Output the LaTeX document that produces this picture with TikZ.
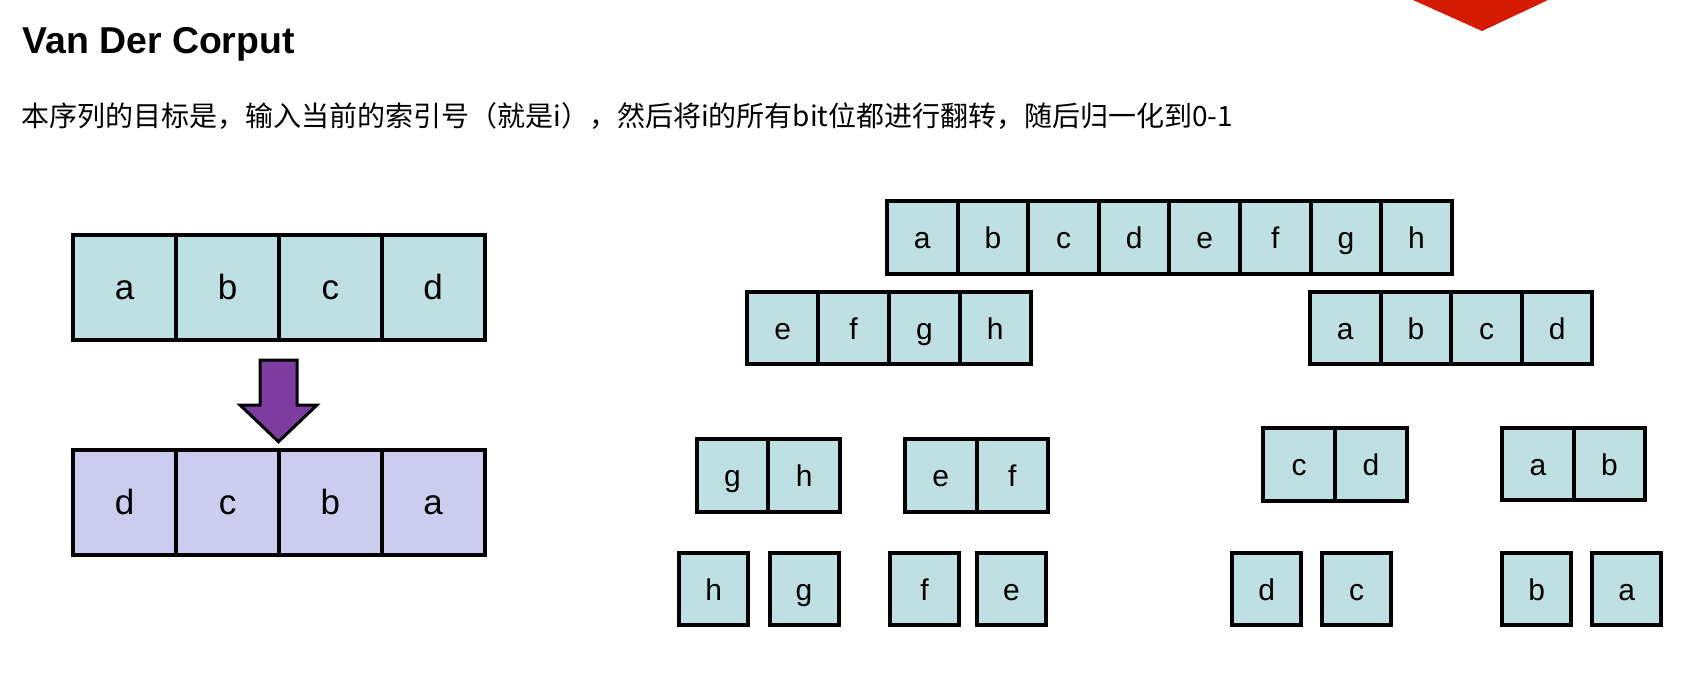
\documentclass[tikz,border=0pt]{standalone}
\usepackage{fontspec}
\setmainfont{Liberation Sans}
\newfontfamily\cjk{Noto Sans CJK SC}
\definecolor{cellcyan}{HTML}{BEE0E2}
\definecolor{celllav}{HTML}{CCCDEE}
\definecolor{arrowpurple}{HTML}{7D3CA0}
\definecolor{cornerred}{HTML}{D41A00}
\tikzset{
  cellbase/.style={draw=black, line width=2pt, inner sep=0pt, text depth=0pt},
  bigcell/.style={cellbase, fill=cellcyan, minimum width=51.4pt, minimum height=52.5pt, text height=12pt, font=\fontsize{17.5}{20}\selectfont},
  bigcellL/.style={bigcell, fill=celllav},
  tcell/.style={cellbase, fill=cellcyan, minimum width=#1, minimum height=36.3pt, text height=11.5pt, font=\fontsize{15}{18}\selectfont},
  tcell/.default=35.3pt
}
\begin{document}
\begin{tikzpicture}[x=0.5pt,y=-0.5pt]
\useasboundingbox (0,0) rectangle (1695,700);
\fill[white] (0,0) rectangle (1695,700);
% red corner shape
\fill[cornerred] (1413,0) -- (1482,31) -- (1548,0) -- cycle;
% title and subtitle
\node[anchor=base west, inner sep=0pt, font=\bfseries\fontsize{18.7}{22}\selectfont] (title) at (22,54) {Van Der Corput};
\node[anchor=base west, inner sep=0pt, font=\cjk\fontsize{14}{17}\selectfont] (sub) at (21,127) {本序列的目标是，输入当前的索引号（就是i），然后将i的所有bit位都进行翻转，随后归一化到0-1};
% left: original row
\foreach \t [count=\i] in {a,b,c,d}{
  \node[bigcell] (L\i) at ({73.3+51.4+102.8*(\i-1)},287.5) {\t};
}
% left: reversed row
\foreach \t [count=\i] in {d,c,b,a}{
  \node[bigcellL] (R\i) at ({73.3+51.4+102.8*(\i-1)},502.5) {\t};
}
% block arrow
\draw[fill=arrowpurple, draw=black, line width=1.5pt, line join=miter]
  (260,360) -- (297,360) -- (297,405) -- (317,405) -- (278.5,441.7) -- (240,405) -- (260,405) -- cycle;
% right: row 1
\foreach \t [count=\i] in {a,b,c,d,e,f,g,h}{
  \node[tcell] (T\i) at ({922.3+70.6*(\i-1)},237.3) {\t};
}
% row 2
\foreach \t [count=\i] in {e,f,g,h}{
  \node[tcell] (U\i) at ({782.7+70.85*(\i-1)},328) {\t};
}
\foreach \t [count=\i] in {a,b,c,d}{
  \node[tcell] (V\i) at ({1345.3+70.6*(\i-1)},328) {\t};
}
% row 3
\node[tcell=35.8pt] (W1) at (732.5,475.3) {g};
\node[tcell=35.8pt] (W2) at (804.2,475.3) {h};
\node[tcell=35.8pt] (W3) at (940.8,475.3) {e};
\node[tcell=35.8pt] (W4) at (1012.4,475.3) {f};
\node[tcell=36pt] (W5) at (1299,464.2) {c};
\node[tcell=36pt] (W6) at (1371,464.2) {d};
\node[tcell=35.7pt] (W7) at (1538,463.9) {a};
\node[tcell=35.7pt] (W8) at (1609.5,463.9) {b};
% row 4
\node[tcell=34.5pt] (X1) at (713.7,589) {h};
\node[tcell=34.5pt] (X2) at (804,589) {g};
\node[tcell=34.5pt] (X3) at (924.5,589) {f};
\node[tcell=34.5pt] (X4) at (1011.5,589) {e};
\node[tcell=34.5pt] (X5) at (1266.7,589) {d};
\node[tcell=34.5pt] (X6) at (1356.7,589) {c};
\node[tcell=34.5pt] (X7) at (1536.7,589) {b};
\node[tcell=34.5pt] (X8) at (1626.7,589) {a};
\end{tikzpicture}
\end{document}
